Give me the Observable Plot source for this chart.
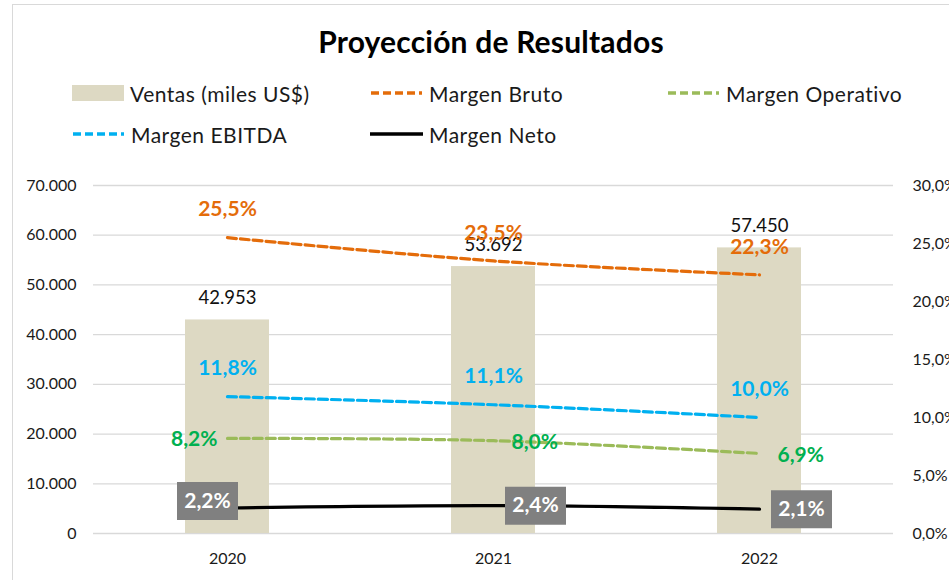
<!DOCTYPE html>
<html>
<head>
<meta charset="utf-8">
<script src="https://cdn.jsdelivr.net/npm/d3@7"></script>
<script src="https://cdn.jsdelivr.net/npm/@observablehq/plot@0.6"></script>
<style>
  html, body { margin: 0; padding: 0; background: #fff; overflow: hidden; }
  #wrap { position: relative; width: 949px; height: 580px; font-family: Lato, "Open Sans", sans-serif; color: #1a1a1a; }
  #frame { position: absolute; left: 12px; top: 4px; width: 960px; height: 600px; border: 1.5px solid #d9d9d9; box-sizing: border-box; }
  #title { position: absolute; left: 0; width: 982px; top: 23px; text-align: center; font-size: 30px; font-weight: bold; color: #000; letter-spacing: 0.2px; }
  .leg { position: absolute; display: flex; align-items: center; font-size: 21px; letter-spacing: 0.5px; white-space: nowrap; height: 24px; }
  .leg svg { margin-right: 6px; }
  #chart { position: absolute; left: 0; top: 160px; }
</style>
</head>
<body>
<div id="wrap">
  <div id="frame"></div>
  <div id="title">Proyección de Resultados</div>
  <div id="legend"></div>
  <div id="chart"></div>
</div>
<script>
// ---- data ----
const years = ["2020", "2021", "2022"];
const ventas = [42953, 53692, 57450];
const margenBruto = [25.5, 23.5, 22.3];
const margenOperativo = [8.2, 8.0, 6.9];
const margenEbitda = [11.8, 11.1, 10.0];
const margenNeto = [2.2, 2.4, 2.1];
const salesTicks = [0, 10000, 20000, 30000, 40000, 50000, 60000, 70000];
const pctTicks = [0, 5, 10, 15, 20, 25, 30];
const seriesNames = ["Ventas (miles US$)", "Margen Bruto", "Margen Operativo", "Margen EBITDA", "Margen Neto"];

// ---- styling ----
const C = {
  bar: "#DDD9C3",
  bruto: "#E46C0A",
  operLine: "#9BBB59",
  operText: "#00B050",
  ebitda: "#00B0F0",
  neto: "#000000",
  box: "#808080"
};
const K = 70000 / 30; // right axis (0-30%) mapped onto left axis (0-70.000)
const toY = p => p * K;
const fmtThousands = v => d3.format(",")(v).replace(/,/g, ".");
const fmtPct = v => v.toFixed(1).replace(".", ",") + "%";

const data = years.map((year, i) => ({
  year,
  ventas: ventas[i],
  bruto: margenBruto[i],
  oper: margenOperativo[i],
  ebitda: margenEbitda[i],
  neto: margenNeto[i]
}));

// ---- legend ----
const legendItems = [
  {name: seriesNames[0], kind: "rect", color: C.bar, x: 72, y: 93},
  {name: seriesNames[1], kind: "dash", color: C.bruto, x: 370, y: 93},
  {name: seriesNames[2], kind: "dash", color: C.operLine, x: 667, y: 93},
  {name: seriesNames[3], kind: "dash", color: C.ebitda, x: 72, y: 134},
  {name: seriesNames[4], kind: "solid", color: C.neto, x: 370, y: 134}
];
const legend = document.getElementById("legend");
for (const it of legendItems) {
  const d = document.createElement("div");
  d.className = "leg";
  d.style.left = it.x + "px";
  d.style.top = (it.y - 12) + "px";
  let sw;
  if (it.kind === "rect") {
    sw = `<svg width="52" height="16"><rect x="0" y="0" width="52" height="16" fill="${it.color}"/></svg>`;
  } else if (it.kind === "dash") {
    sw = `<svg width="53" height="16"><line x1="1" y1="8" x2="52" y2="8" stroke="${it.color}" stroke-width="3.5" stroke-dasharray="8,4"/></svg>`;
  } else {
    sw = `<svg width="53" height="16"><line x1="0" y1="8" x2="53" y2="8" stroke="${it.color}" stroke-width="3.5"/></svg>`;
  }
  d.innerHTML = sw + `<span>${it.name}</span>`;
  legend.appendChild(d);
}

// ---- chart ----
const boxSymbol = {draw(ctx) { ctx.rect(-30.5, -19, 61, 38); }};
const first = d => d.year === years[0];
const notFirst = d => d.year !== years[0];
const dash = {strokeWidth: 3.2, strokeDasharray: "9,4", curve: "catmull-rom"};

const chart = Plot.plot({
  width: 949,
  height: 420,
  marginTop: 25,
  marginBottom: 47,
  marginLeft: 93,
  marginRight: 56,
  style: {fontFamily: "Lato, 'Open Sans', sans-serif", fontSize: "16px", color: "#1a1a1a", background: "transparent"},
  x: {domain: years, paddingInner: 0.686, paddingOuter: 0.343, label: null},
  y: {domain: [0, 70000], label: null},
  marks: [
    Plot.gridY(salesTicks, {stroke: "#d9d9d9", strokeOpacity: 1, strokeWidth: 1.3}),
    Plot.barY(data, {x: "year", y: "ventas", fill: C.bar}),
    Plot.axisY(salesTicks, {anchor: "left", tickSize: 0, tickPadding: 17, tickFormat: fmtThousands, fontSize: 16, label: null}),
    Plot.axisY(pctTicks.map(toY), {anchor: "right", tickSize: 0, tickPadding: 19, tickFormat: v => fmtPct(v / K), fontSize: 16, label: null}),
    Plot.axisX({tickSize: 0, tickPadding: 19, fontSize: 16, label: null}),
    Plot.lineY(data, {x: "year", y: d => toY(d.bruto), stroke: C.bruto, ...dash}),
    Plot.lineY(data, {x: "year", y: d => toY(d.ebitda), stroke: C.ebitda, ...dash}),
    Plot.lineY(data, {x: "year", y: d => toY(d.oper), stroke: C.operLine, ...dash}),
    Plot.lineY(data, {x: "year", y: d => toY(d.neto), stroke: C.neto, strokeWidth: 3.2, curve: "catmull-rom"}),
    Plot.text(data, {x: "year", y: "ventas", text: d => fmtThousands(d.ventas), dy: -16, lineAnchor: "bottom", fontSize: 18.5, fill: "#111"}),
    Plot.text(data, {x: "year", y: d => toY(d.bruto), text: d => fmtPct(d.bruto), dy: -28, fill: C.bruto, fontWeight: "bold", fontSize: 21}),
    Plot.text(data, {x: "year", y: d => toY(d.ebitda), text: d => fmtPct(d.ebitda), dy: -28, fill: C.ebitda, fontWeight: "bold", fontSize: 21}),
    Plot.text(data, {filter: first, x: "year", y: d => toY(d.oper), text: d => fmtPct(d.oper), dx: -10, dy: 1, textAnchor: "end", fill: C.operText, fontWeight: "bold", fontSize: 21}),
    Plot.text(data, {filter: notFirst, x: "year", y: d => toY(d.oper), text: d => fmtPct(d.oper), dx: 18, dy: 2, textAnchor: "start", fill: C.operText, fontWeight: "bold", fontSize: 21}),
    Plot.dot(data, {filter: first, x: "year", y: d => toY(d.neto), symbol: boxSymbol, r: 10, fill: C.box, stroke: null, dx: -20, dy: -7}),
    Plot.dot(data, {filter: notFirst, x: "year", y: d => toY(d.neto), symbol: boxSymbol, r: 10, fill: C.box, stroke: null, dx: 42}),
    Plot.text(data, {filter: first, x: "year", y: d => toY(d.neto), text: d => fmtPct(d.neto), dx: -20, dy: -7, fill: "#fff", fontWeight: "bold", fontSize: 21}),
    Plot.text(data, {filter: notFirst, x: "year", y: d => toY(d.neto), text: d => fmtPct(d.neto), dx: 42, fill: "#fff", fontWeight: "bold", fontSize: 21})
  ]
});
document.getElementById("chart").appendChild(chart);
</script>
</body>
</html>
